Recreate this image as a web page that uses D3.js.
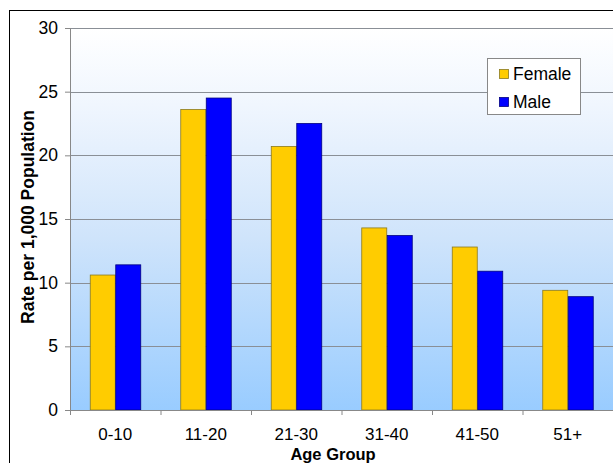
<!DOCTYPE html>
<html><head><meta charset="utf-8">
<script src="https://cdn.jsdelivr.net/npm/d3@7"></script>
<style>body{margin:0;background:#fff;}svg{display:block;font-family:Arial,"Liberation Sans",sans-serif;}</style>
</head><body><svg id="c" width="613" height="463"></svg>
<script>
const categories = ["0-10","11-20","21-30","31-40","41-50","51+"];
const female = [10.6, 23.6, 20.7, 14.3, 12.8, 9.4];
const male = [11.4, 24.5, 22.5, 13.7, 10.9, 8.9];
const seriesNames = ["Female","Male"];
const yTicks = [0,5,10,15,20,25,30];

const svg = d3.select("#c");
const L = 70, R = 613, T = 28, B = 410;
const FS = 17.5;
const x = d3.scaleBand().domain(categories).range([L, R]);
const xs = d3.scaleBand().domain(seriesNames).range([0, 51]);
const y = d3.scaleLinear().domain([0, 30]).range([B, T]);
const colors = {Female:"#FFCC00", Male:"#0000FF"};
const strokes = {Female:"#8a7a20", Male:"#000080"};

svg.append("rect").attr("x",9.5).attr("y",10.5).attr("width",700).attr("height",500)
  .attr("fill","#fff").attr("stroke","#000").attr("stroke-width",1);

const defs = svg.append("defs");
const g = defs.append("linearGradient").attr("id","bg").attr("x1",0).attr("y1",0).attr("x2",0).attr("y2",1);
g.append("stop").attr("offset","0%").attr("stop-color","#ffffff");
g.append("stop").attr("offset","20%").attr("stop-color","#f0f6fe");
g.append("stop").attr("offset","55%").attr("stop-color","#cfe4fb");
g.append("stop").attr("offset","100%").attr("stop-color","#99ccff");
svg.append("rect").attr("x",L).attr("y",T).attr("width",R-L).attr("height",B-T).attr("fill","url(#bg)");

svg.append("g").selectAll("line").data(yTicks.filter(d=>d>0)).join("line")
  .attr("x1",L).attr("x2",R).attr("y1",d=>Math.round(y(d))+0.5).attr("y2",d=>Math.round(y(d))+0.5)
  .attr("stroke","#8a8f96").attr("stroke-width",1.2);

const data = categories.map((c,i)=>({c, vals:[{s:"Female",v:female[i]},{s:"Male",v:male[i]}]}));
const grp = svg.append("g").selectAll("g").data(data).join("g")
  .attr("transform",d=>`translate(${x(d.c)+x.bandwidth()/2-25.5},0)`);
grp.selectAll("rect").data(d=>d.vals).join("rect")
  .attr("x",d=>xs(d.s)+0.5).attr("width",xs.bandwidth()-0.5)
  .attr("y",d=>y(d.v)).attr("height",d=>B-y(d.v))
  .attr("fill",d=>colors[d.s]).attr("stroke",d=>strokes[d.s]).attr("stroke-width",0.8);

const yAxis = svg.append("g").attr("transform",`translate(${L},0)`)
  .call(d3.axisLeft(y).tickValues(yTicks).tickSize(5).tickPadding(7).tickFormat(d3.format("d")));
yAxis.select(".domain").attr("stroke","#888");
yAxis.selectAll(".tick line").attr("stroke","#888");
yAxis.selectAll("text").attr("font-size",FS).attr("fill","#000");

const xAxis = svg.append("g").attr("transform",`translate(0,${B})`)
  .call(d3.axisBottom(x).tickSize(0).tickPadding(18));
xAxis.select(".domain").attr("stroke","#888");
xAxis.selectAll("text").attr("font-size",17).attr("fill","#000");
svg.append("g").selectAll("line").data(categories).join("line")
  .attr("x1",d=>x(d)+x.bandwidth()+0.5).attr("x2",d=>x(d)+x.bandwidth()+0.5)
  .attr("y1",B).attr("y2",B+5).attr("stroke","#888");
svg.append("line").attr("x1",L+0.5).attr("x2",L+0.5).attr("y1",B).attr("y2",B+5).attr("stroke","#888");

svg.append("text").attr("x",333).attr("y",459.5).attr("text-anchor","middle")
  .attr("font-size",16.5).attr("font-weight","bold").text("Age Group");
svg.append("text").attr("transform","translate(34,217) rotate(-90)").attr("text-anchor","middle")
  .attr("font-size",FS).attr("font-weight","bold").text("Rate per 1,000 Population");

const lg = svg.append("g");
lg.append("rect").attr("x",487.5).attr("y",58.5).attr("width",93).attr("height",56)
  .attr("fill","#fff").attr("stroke","#888");
seriesNames.forEach((s,i)=>{
  lg.append("rect").attr("x",499.5).attr("y",69.5+i*28).attr("width",9).attr("height",9)
    .attr("fill",colors[s]).attr("stroke",strokes[s]).attr("stroke-width",0.8);
  lg.append("text").attr("x",513).attr("y",79.5+i*28).attr("font-size",FS).attr("fill","#000").text(s);
});
</script></body></html>
